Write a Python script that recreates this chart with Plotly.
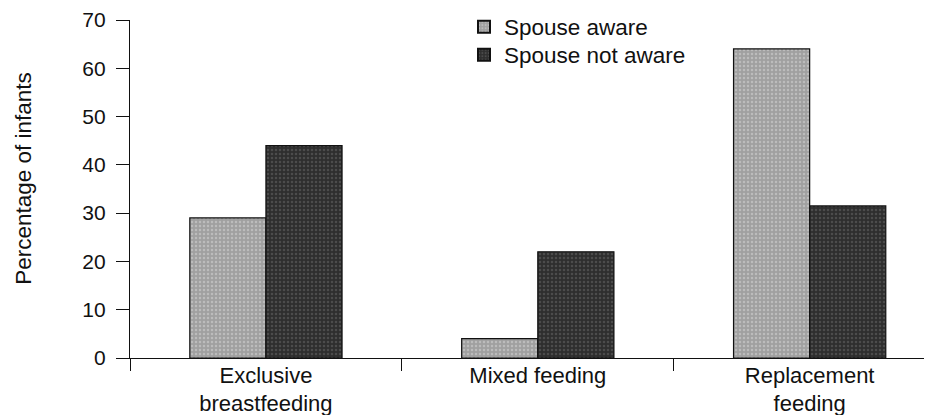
import plotly.graph_objects as go

categories = ["Exclusive<br>breastfeeding", "Mixed feeding", "Replacement<br>feeding"]
series_names = ["Spouse aware", "Spouse not aware"]
spouse_aware = [29, 4, 64]
spouse_not_aware = [44, 22, 31.5]
y_ticks = [0, 10, 20, 30, 40, 50, 60, 70]
y_title = "Percentage of infants"

FONT = "Liberation Sans, Arial, Helvetica, sans-serif"

fig = go.Figure()
fig.add_trace(go.Bar(
    x=categories, y=spouse_aware, name=series_names[0], legend="legend",
    marker=dict(color="#ababab", line=dict(color="#111111", width=1.2),
                pattern=dict(shape=".", fgcolor="#d8d8d8", bgcolor="#a0a0a0", size=4, solidity=0.3)),
))
fig.add_trace(go.Bar(
    x=categories, y=spouse_not_aware, name=series_names[1], legend="legend2",
    marker=dict(color="#3a3a3a", line=dict(color="#111111", width=1.2),
                pattern=dict(shape=".", fgcolor="#6a6a6a", bgcolor="#2e2e2e", size=4, solidity=0.3)),
))

legend_common = dict(xanchor="left", yanchor="middle", font=dict(size=22.5),
                     bgcolor="rgba(0,0,0,0)", itemsizing="constant",
                     xref="container", yref="container")

fig.update_layout(
    width=932, height=415,
    margin=dict(l=122, r=8, t=12, b=65, autoexpand=False),
    paper_bgcolor="white", plot_bgcolor="white",
    barmode="group", bargap=0.44, bargroupgap=0,
    font=dict(family=FONT, size=22, color="#111111"),
    showlegend=True,
    legend=dict(x=456 / 932, y=1 - 19 / 415, **legend_common),
    legend2=dict(x=456 / 932, y=1 - 47 / 415, **legend_common),
    annotations=[dict(text=y_title, textangle=-90, showarrow=False,
                      xref="paper", yref="paper", x=-106 / 802, y=0.533,
                      xanchor="center", yanchor="middle",
                      font=dict(size=22.5, family=FONT, color="#111111"))],
)
fig.update_xaxes(
    type="category", range=[-0.5, 2.45], automargin=False,
    showline=True, linecolor="#111111", linewidth=1.2,
    ticks="outside", ticklen=12, tickcolor="#111111", tickwidth=1.2,
    tickson="boundaries", showgrid=False, zeroline=False,
    tickfont=dict(size=22), ticklabelstandoff=-3,
)
fig.update_yaxes(
    range=[0, 70], tickvals=y_ticks, automargin=False,
    showline=True, linecolor="#111111", linewidth=1.2,
    ticks="outside", ticklen=13, tickcolor="#111111", tickwidth=1.2,
    showgrid=False, zeroline=False,
    tickfont=dict(size=21), ticklabelstandoff=6,
)

fig.write_html("out.html")
